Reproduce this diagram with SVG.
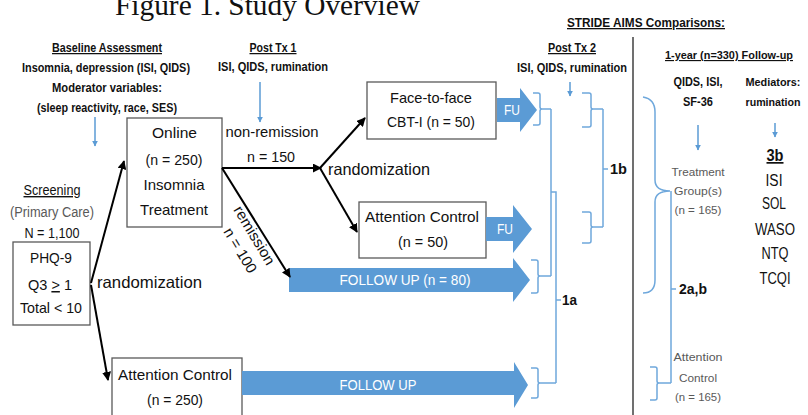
<svg xmlns="http://www.w3.org/2000/svg" width="808" height="415" viewBox="0 0 808 415">
<defs>
<style>
text{font-family:"Liberation Sans",Arial,sans-serif;fill:#111;}
.t{font-family:"Liberation Serif","Times New Roman",serif;font-size:29px;}
.h{font-size:12.5px;font-weight:bold;text-anchor:middle;}
.hs{font-size:11.5px;}
.u{text-decoration:underline;}
.n{font-size:15px;text-anchor:middle;}
.g{fill:#595959;}
.sm{font-size:11.5px;text-anchor:middle;fill:#595959;}
.w{fill:#fff;font-size:15px;text-anchor:middle;}
.lb{font-size:14px;font-weight:bold;}
.box{fill:#fff;stroke:#595959;stroke-width:1.3;}
.blk{stroke:#000;stroke-width:2;fill:none;marker-end:url(#ah);}
.bl{stroke:#5B9BD5;stroke-width:1.5;fill:none;marker-end:url(#bh);}
.br{stroke:#6FA8DC;stroke-width:1.5;fill:none;}
.fa{fill:#5B9BD5;}
</style>
<marker id="ah" viewBox="0 0 10 10" refX="9" refY="5" markerWidth="4.5" markerHeight="4.5" orient="auto" markerUnits="strokeWidth">
<path d="M0,0 L10,5 L0,10 Z" fill="#000"/>
</marker>
<marker id="bh" viewBox="0 0 10 10" refX="9" refY="5" markerWidth="4" markerHeight="4" orient="auto" markerUnits="strokeWidth">
<path d="M0,0 L10,5 L0,10 Z" fill="#5B9BD5"/>
</marker>
</defs>
<rect width="808" height="415" fill="#fff"/>
<text class="t" x="115" y="15" textLength="305" lengthAdjust="spacingAndGlyphs">Figure 1. Study Overview</text>

<g id="headers">
<text class="h u" x="107" y="52" textLength="110" lengthAdjust="spacingAndGlyphs">Baseline Assessment</text>
<text class="h" x="106" y="72" textLength="168" lengthAdjust="spacingAndGlyphs">Insomnia, depression (ISI, QIDS)</text>
<text class="h" x="107" y="92" textLength="110" lengthAdjust="spacingAndGlyphs">Moderator variables:</text>
<text class="h" x="107" y="112" textLength="140" lengthAdjust="spacingAndGlyphs">(sleep reactivity, race, SES)</text>
<text class="h u" x="273" y="52" textLength="47" lengthAdjust="spacingAndGlyphs">Post Tx 1</text>
<text class="h" x="273" y="71" textLength="110" lengthAdjust="spacingAndGlyphs">ISI, QIDS, rumination</text>
<text class="h u" x="572" y="52" textLength="48" lengthAdjust="spacingAndGlyphs">Post Tx 2</text>
<text class="h" x="572" y="72" textLength="110" lengthAdjust="spacingAndGlyphs">ISI, QIDS, rumination</text>
<text class="h u" x="646" y="27" style="font-size:13px" textLength="158" lengthAdjust="spacingAndGlyphs">STRIDE AIMS Comparisons:</text>
<text class="h hs u" x="729" y="59" textLength="128" lengthAdjust="spacingAndGlyphs">1-year (n=330) Follow-up</text>
<text class="h" x="698" y="86" textLength="49" lengthAdjust="spacingAndGlyphs">QIDS, ISI,</text>
<text class="h" x="698" y="106" textLength="30" lengthAdjust="spacingAndGlyphs">SF-36</text>
<text class="h hs" x="773" y="86" textLength="55" lengthAdjust="spacingAndGlyphs">Mediators:</text>
<text class="h hs" x="773" y="106" textLength="55" lengthAdjust="spacingAndGlyphs">rumination</text>
</g>

<g id="screening">
<text class="n u" x="52" y="195" style="font-size:14px" textLength="57" lengthAdjust="spacingAndGlyphs">Screening</text>
<text class="n g" x="52" y="217" style="font-size:14px" textLength="84" lengthAdjust="spacingAndGlyphs">(Primary Care)</text>
<text class="n" x="52" y="238" style="font-size:14px" textLength="55" lengthAdjust="spacingAndGlyphs">N = 1,100</text>
</g>
<g id="phq9">
<rect class="box" x="13" y="242" width="77" height="83"/>
<text class="n" x="51" y="263" textLength="42" lengthAdjust="spacingAndGlyphs">PHQ-9</text>
<text class="n" x="50" y="290" textLength="44" lengthAdjust="spacingAndGlyphs">Q3 <tspan class="u">&gt;</tspan> 1</text>
<text class="n" x="51" y="313" textLength="62" lengthAdjust="spacingAndGlyphs">Total &lt; 10</text>
</g>
<g id="online">
<rect class="box" x="127" y="118" width="95" height="109"/>
<text class="n" x="174.5" y="138" textLength="45" lengthAdjust="spacingAndGlyphs">Online</text>
<text class="n" x="174" y="165" textLength="57" lengthAdjust="spacingAndGlyphs">(n = 250)</text>
<text class="n" x="174" y="190" textLength="61" lengthAdjust="spacingAndGlyphs">Insomnia</text>
<text class="n" x="174" y="215" textLength="68" lengthAdjust="spacingAndGlyphs">Treatment</text>
</g>
<g id="attn250">
<rect class="box" x="112" y="358" width="130" height="62"/>
<text class="n" x="175" y="380" textLength="114" lengthAdjust="spacingAndGlyphs">Attention Control</text>
<text class="n" x="175" y="405" textLength="56" lengthAdjust="spacingAndGlyphs">(n = 250)</text>
</g>
<g id="f2f">
<rect class="box" x="367" y="82" width="129" height="57"/>
<text class="n" x="431" y="103" textLength="82" lengthAdjust="spacingAndGlyphs">Face-to-face</text>
<text class="n" x="431" y="127" textLength="88" lengthAdjust="spacingAndGlyphs">CBT-I (n = 50)</text>
</g>
<g id="attn50">
<rect class="box" x="359" y="202" width="127" height="56"/>
<text class="n" x="422" y="222" textLength="114" lengthAdjust="spacingAndGlyphs">Attention Control</text>
<text class="n" x="423" y="247" textLength="50" lengthAdjust="spacingAndGlyphs">(n = 50)</text>
</g>

<g id="followups">
<path class="fa" d="M497,98 H520 V88 L537,110 L520,132 V122 H497 Z"/>
<text class="w" x="512" y="115" style="font-size:14px" textLength="16" lengthAdjust="spacingAndGlyphs">FU</text>
<path class="fa" d="M486,217 H513 V205 L532,229 L513,253 V241 H486 Z"/>
<text class="w" x="505" y="234" style="font-size:14px" textLength="16" lengthAdjust="spacingAndGlyphs">FU</text>
<path class="fa" d="M289,268 H513 V258 L530,280 L513,302 V292 H289 Z"/>
<text class="w" x="405" y="285" textLength="131" lengthAdjust="spacingAndGlyphs">FOLLOW UP (n = 80)</text>
<path class="fa" d="M242,371 H514 V362 L528,385 L514,408 V395 H242 Z"/>
<text class="w" x="378" y="390" textLength="77" lengthAdjust="spacingAndGlyphs">FOLLOW UP</text>
</g>

<g id="connectors">
<line class="blk" x1="91" y1="283" x2="124" y2="161"/>
<line class="blk" x1="91" y1="285" x2="108" y2="380"/>
<line class="blk" x1="222" y1="168" x2="321" y2="168"/>
<line class="blk" x1="320" y1="168" x2="365" y2="118"/>
<line class="blk" x1="320" y1="168" x2="357" y2="232"/>
<line class="blk" x1="222" y1="168" x2="290" y2="277"/>
<line class="bl" x1="95" y1="117" x2="95" y2="146"/>
<line class="bl" x1="260" y1="82" x2="260" y2="122"/>
<line class="bl" x1="570" y1="82" x2="570" y2="96"/>
<line class="bl" x1="698" y1="125" x2="698" y2="150"/>
<line class="bl" x1="775" y1="123" x2="775" y2="137"/>
<line x1="633" y1="37" x2="633" y2="415" stroke="#404040" stroke-width="1.5"/>
<path class="br" d="M533,93 H538 Q540,93 540,95 V107 Q540,109 542,109 H551 M542,109 Q540,109 540,111 V123 Q540,125 538,125 H533"/>
<path class="br" d="M531,260 H536 Q538,260 538,262 V274 Q538,276 540,276 H551 M540,276 Q538,276 538,278 V291 Q538,293 536,293 H531"/>
<path class="br" d="M551,109 V276 M551,192 H556 V383 M556,300 H561"/>
<path class="br" d="M531,368 H536 Q538,368 538,370 V381 Q538,383 540,383 H556 M540,383 Q538,383 538,385 V396 Q538,398 536,398 H531"/>
<path class="br" d="M582,93 H589 Q591,93 591,95 V107 Q591,109 593,109 H603 M593,109 Q591,109 591,111 V125 Q591,127 589,127 H582"/>
<path class="br" d="M582,212 H589 Q591,212 591,214 V225 Q591,227 593,227 H603 M593,227 Q591,227 591,229 V241 Q591,243 589,243 H582"/>
<path class="br" d="M603,109 V227 M603,169 H608"/>
<path class="br" d="M643,97 Q655,99 655,112 V180 Q655,191 670,191 Q655,191 655,202 V280 Q655,293 643,293"/>
<path class="br" d="M671,191 V383 M671,289 H676"/>
<path class="br" d="M650,367 H655 Q657,367 657,369 V381 Q657,383 659,383 H671 M659,383 Q657,383 657,385 V398 Q657,400 655,400 H650"/>
</g>

<g id="labels">
<text x="97" y="288" style="font-size:16.5px" textLength="105" lengthAdjust="spacingAndGlyphs">randomization</text>
<text x="328" y="175" style="font-size:16.5px" textLength="102" lengthAdjust="spacingAndGlyphs">randomization</text>
<text class="n" x="272" y="137" textLength="93" lengthAdjust="spacingAndGlyphs">non-remission</text>
<text class="n" x="271" y="162" textLength="48" lengthAdjust="spacingAndGlyphs">n = 150</text>
<text class="n" transform="translate(250,238) rotate(59)" textLength="66" lengthAdjust="spacingAndGlyphs">remission</text>
<text class="n" transform="translate(236,253) rotate(59)" textLength="50" lengthAdjust="spacingAndGlyphs">n = 100</text>
<text class="lb" x="610" y="174" textLength="17" lengthAdjust="spacingAndGlyphs">1b</text>
<text class="lb" x="562" y="305" textLength="15" lengthAdjust="spacingAndGlyphs">1a</text>
<text class="lb" x="679" y="294" textLength="28" lengthAdjust="spacingAndGlyphs">2a,b</text>
</g>

<g id="treatment">
<text class="sm" x="698" y="176" textLength="53" lengthAdjust="spacingAndGlyphs">Treatment</text>
<text class="sm" x="698" y="195" textLength="48" lengthAdjust="spacingAndGlyphs">Group(s)</text>
<text class="sm" x="698" y="214" textLength="47" lengthAdjust="spacingAndGlyphs">(n = 165)</text>
</g>
<g id="attn165">
<text class="sm" x="698" y="361" textLength="49" lengthAdjust="spacingAndGlyphs">Attention</text>
<text class="sm" x="698" y="382" textLength="38" lengthAdjust="spacingAndGlyphs">Control</text>
<text class="sm" x="698" y="401" textLength="46" lengthAdjust="spacingAndGlyphs">(n = 165)</text>
</g>
<g id="aim3b">
<text class="u" x="775" y="161" text-anchor="middle" style="font-size:17px;font-weight:bold" textLength="17" lengthAdjust="spacingAndGlyphs">3b</text>
<text class="n" x="774" y="186" style="font-size:16px" textLength="17" lengthAdjust="spacingAndGlyphs">ISI</text>
<text class="n" x="774" y="209" style="font-size:16px" textLength="24" lengthAdjust="spacingAndGlyphs">SOL</text>
<text class="n" x="775" y="235" style="font-size:16px" textLength="40" lengthAdjust="spacingAndGlyphs">WASO</text>
<text class="n" x="775" y="259" style="font-size:16px" textLength="27" lengthAdjust="spacingAndGlyphs">NTQ</text>
<text class="n" x="775" y="284" style="font-size:16px" textLength="31" lengthAdjust="spacingAndGlyphs">TCQI</text>
</g>
</svg>
